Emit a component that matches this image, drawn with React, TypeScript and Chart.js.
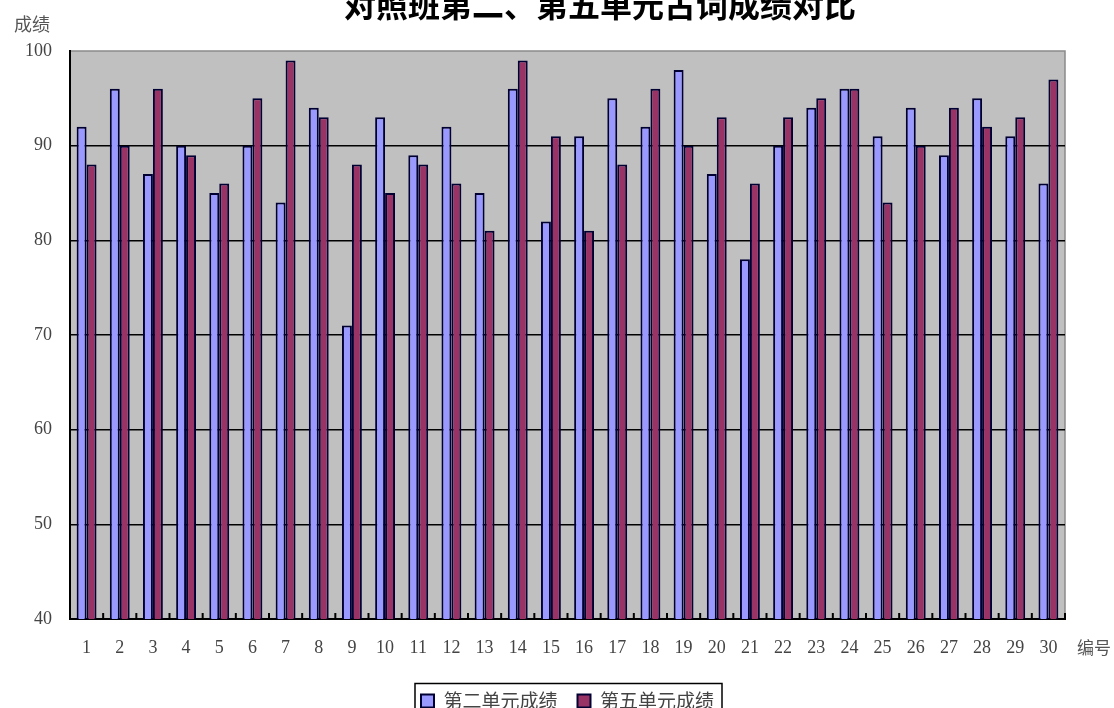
import { useEffect, useRef } from 'react';
import { Chart, registerables } from 'chart.js';

// Register the necessary components
Chart.register(...registerables);

const chartTitle = '对照班第二、第五单元古词成绩对比';
const yAxisName = '成绩';
const xAxisName = '编号';
const seriesNames = ['第二单元成绩', '第五单元成绩'];

const studentIds = [
    '1', '2', '3', '4', '5', '6', '7', '8', '9', '10',
    '11', '12', '13', '14', '15', '16', '17', '18', '19', '20',
    '21', '22', '23', '24', '25', '26', '27', '28', '29', '30',
];

const unit2Scores = [
    92, 96, 87, 90, 85, 90, 84, 94, 71, 93,
    89, 92, 85, 96, 82, 91, 95, 92, 98, 87,
    78, 90, 94, 96, 91, 94, 89, 95, 91, 86,
];

const unit5Scores = [
    88, 90, 96, 89, 86, 95, 99, 93, 88, 85,
    88, 86, 81, 99, 91, 81, 88, 96, 90, 93,
    86, 93, 95, 96, 84, 90, 94, 92, 93, 97,
];

const yMin = 40;
const yMax = 100;
const yStep = 10;

const cjkFont = "'Noto Sans CJK SC', sans-serif";
const numFont = "'Liberation Serif', serif";

// gray plot area, inside tick marks, axis names, title and legend frame
const excelLook = {
    id: 'excelLook',
    beforeDraw(chart: any) {
        const { ctx, chartArea: a } = chart;
        ctx.save();
        ctx.fillStyle = '#c0c0c0';
        ctx.fillRect(a.left, a.top, a.width, a.height);
        ctx.strokeStyle = '#8a8a8a';
        ctx.lineWidth = 1.5;
        ctx.strokeRect(a.left, a.top, a.width, a.height);
        ctx.restore();
    },
    afterDraw(chart: any) {
        const { ctx, chartArea: a } = chart;
        const xScale = chart.scales.x;
        const yScale = chart.scales.y;
        ctx.save();

        // small ticks between categories, pointing up into the plot
        const step = xScale.width / studentIds.length;
        ctx.strokeStyle = '#000';
        ctx.lineWidth = 2;
        ctx.beginPath();
        for (let k = 0; k <= studentIds.length; k++) {
            const x = xScale.left + step * k;
            ctx.moveTo(x, a.bottom);
            ctx.lineTo(x, a.bottom - 6);
        }
        ctx.stroke();

        // title, cut at the top like the original
        ctx.fillStyle = '#000';
        ctx.font = `bold 32px ${cjkFont}`;
        ctx.textAlign = 'center';
        ctx.textBaseline = 'middle';
        ctx.fillText(chartTitle, 600, 5);

        // axis names
        ctx.fillStyle = '#555';
        ctx.font = `18px ${cjkFont}`;
        ctx.fillText(yAxisName, 32, yScale.top - 27);
        ctx.font = `17px ${cjkFont}`;
        ctx.fillText(xAxisName, 1094, a.bottom + 29);

        // frame round the legend
        const boxes = chart.legend.legendHitBoxes;
        if (boxes && boxes.length) {
            const left = Math.min(...boxes.map((b: any) => b.left)) - 6;
            const right = Math.max(...boxes.map((b: any) => b.left + b.width)) + 8;
            const top = Math.min(...boxes.map((b: any) => b.top)) - 8;
            const bottom = Math.max(...boxes.map((b: any) => b.top + b.height)) + 8;
            ctx.strokeStyle = '#000';
            ctx.lineWidth = 1.5;
            ctx.strokeRect(left, top, right - left, bottom - top);
        }
        ctx.restore();
    },
};

export default function App() {
    const canvasRef = useRef<HTMLCanvasElement | null>(null);
    const chartRef = useRef<Chart | null>(null);

    useEffect(() => {
        if (!canvasRef.current) return;

        chartRef.current = new Chart(canvasRef.current, {
            type: 'bar',
            data: {
                labels: studentIds,
                datasets: [
                    {
                        label: seriesNames[0],
                        data: unit2Scores,
                        backgroundColor: '#9999ff',
                        borderColor: '#000033',
                        borderWidth: 2,
                        categoryPercentage: 0.6,
                        barPercentage: 1.0,
                    },
                    {
                        label: seriesNames[1],
                        data: unit5Scores,
                        backgroundColor: '#993366',
                        borderColor: '#000033',
                        borderWidth: 2,
                        categoryPercentage: 0.6,
                        barPercentage: 1.0,
                    },
                ],
            },
            options: {
                responsive: false,
                animation: false,
                layout: {
                    padding: { top: 51, left: 8, right: 49, bottom: -12.5 },
                },
                scales: {
                    x: {
                        offset: true,
                        grid: { display: false, drawTicks: false },
                        border: { display: true, color: '#000', width: 2 },
                        ticks: {
                            padding: 18,
                            color: '#444',
                            font: { family: numFont, size: 18 },
                            maxRotation: 0,
                            autoSkip: false,
                        },
                        afterFit: (scale: any) => { scale.height = 52.5; },
                    },
                    y: {
                        min: yMin,
                        max: yMax,
                        grid: {
                            color: (c: any) => (c.tick && c.tick.value === yMax ? 'rgba(0,0,0,0)' : '#000'),
                            lineWidth: 1.5,
                            drawTicks: false,
                        },
                        border: { display: true, color: '#000', width: 2 },
                        ticks: {
                            stepSize: yStep,
                            padding: 18,
                            color: '#444',
                            font: { family: numFont, size: 18 },
                        },
                        afterFit: (scale: any) => { scale.width = 62; },
                    },
                },
                plugins: {
                    title: { display: false },
                    tooltip: { enabled: false },
                    legend: {
                        position: 'bottom',
                        fullSize: false,
                        labels: {
                            boxWidth: 13,
                            boxHeight: 13,
                            padding: 20,
                            color: '#444',
                            font: { family: cjkFont, size: 19 },
                        },
                    },
                },
            },
            plugins: [excelLook],
        } as any);

        return () => {
            if (chartRef.current) {
                chartRef.current.destroy();
                chartRef.current = null;
            }
        };
    }, []);

    return (
        <div style={{ position: 'absolute', left: 0, top: 0, width: 1114, height: 708, background: '#fff' }}>
            <canvas ref={canvasRef} width={1114} height={708}></canvas>
        </div>
    );
}
